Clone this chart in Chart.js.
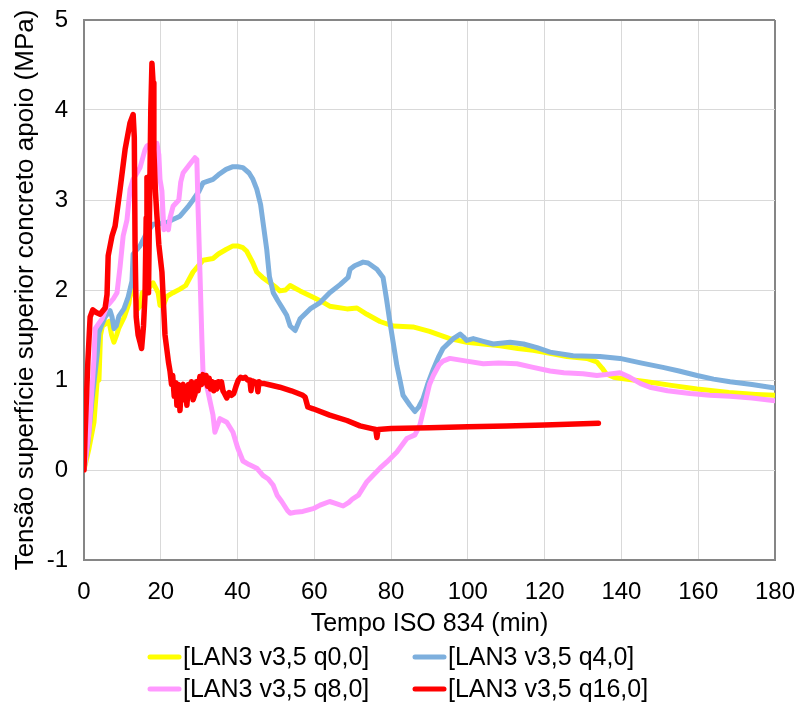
<!DOCTYPE html>
<html><head><meta charset="utf-8">
<script src="https://cdn.jsdelivr.net/npm/chart.js@4.4.0/dist/chart.umd.min.js"></script>
<style>html,body{margin:0;padding:0;background:#fff;}</style>
</head><body>
<canvas id="c" width="795" height="704"></canvas>
<script>
// ---- data ----
const seriesLabels = ['[LAN3 v3,5 q0,0]', '[LAN3 v3,5 q4,0]', '[LAN3 v3,5 q8,0]', '[LAN3 v3,5 q16,0]'];
const xTitle = 'Tempo ISO 834 (min)';
const yTitle = 'Tensão superfície superior concreto apoio (MPa)';

const tQ0 = [0,1.3,2.6,3.4,3.9,4.3,4.8,5.5,6.5,7.2,7.8,8.5,9.1,10.5,11.7,12.2,13.2,14,14.6,15.2,16.5,18,19.3,19.8,20.6,21.6,23.2,25,26.5,28.4,30,31,33.6,35,37,38.8,40,41.4,42.4,44,45,46.5,48.4,50,51,52.5,53.7,55,56.3,59.7,62,64,68.5,71.1,73.7,77.1,80.5,85.7,90,92,95.3,99.7,104,108.4,113,117,121,125.8,131,133.6,135,136,138,139.6,146.6,153,159.7,168,175,180];
const sQ0 = [0,0.24,0.53,0.98,1.0,1.5,1.6,1.62,1.65,1.5,1.42,1.5,1.58,1.7,1.85,2.03,1.95,1.79,1.82,1.97,2.0,2.08,1.97,1.83,1.82,1.93,1.97,2.01,2.05,2.2,2.28,2.33,2.35,2.4,2.45,2.49,2.49,2.47,2.43,2.3,2.2,2.14,2.08,2.03,1.99,2.0,2.05,2.02,1.99,1.92,1.87,1.82,1.79,1.8,1.73,1.65,1.6,1.59,1.54,1.51,1.46,1.42,1.4,1.38,1.35,1.33,1.3,1.26,1.24,1.2,1.13,1.07,1.03,1.02,0.98,0.94,0.9,0.86,0.84,0.83];

const tQ4 = [0,1,2.1,3.4,3.9,4.5,5.5,6.8,7.3,7.8,8.4,9.1,10.4,11.5,12.5,12.8,14.6,16.4,18,20,21.6,23,25,27,28.4,30,31,33.6,35,37,38.8,40,41.4,43,44,45,46,46.8,47.6,48.3,49.3,50.5,51.8,52.8,53.7,55,56.3,58.9,61.5,64,66.7,68.8,69.3,70.5,72.7,74,76.3,77.9,78.8,79.7,80.6,81.5,82.3,83.1,84.9,86.2,87.2,88.3,89.5,91,92.3,93.5,96.2,98,98.8,99.7,101.4,104,106.6,111,114.5,118,121.4,127.4,134.4,139.6,145,150.8,155,159.7,164,168.3,174,180];
const sQ4 = [0,0.3,0.79,1.27,1.53,1.6,1.7,1.77,1.7,1.57,1.6,1.71,1.79,1.92,2.1,2.4,2.49,2.64,2.73,2.74,2.75,2.78,2.82,2.92,3.0,3.1,3.19,3.23,3.28,3.34,3.37,3.37,3.36,3.3,3.23,3.12,2.95,2.7,2.45,2.15,1.97,1.88,1.79,1.72,1.6,1.55,1.68,1.79,1.86,1.97,2.06,2.14,2.23,2.27,2.31,2.3,2.23,2.14,1.9,1.64,1.4,1.16,1.0,0.83,0.72,0.65,0.7,0.79,0.95,1.12,1.25,1.35,1.46,1.51,1.48,1.44,1.46,1.43,1.4,1.42,1.4,1.36,1.31,1.27,1.26,1.24,1.19,1.14,1.1,1.05,1.01,0.98,0.95,0.91];

const tQ8 = [0,1.3,2.6,2.9,3.4,4.7,6,6.8,7.6,8.6,9.4,10.2,11.2,12,12.8,13.8,14.6,15.9,16.4,17.7,19,19.5,19.8,20.3,20.8,21.5,22,22.4,23.2,24.7,25.2,25.8,27.6,28.9,29.4,29.7,30.2,30.7,31,32.3,33.6,34.1,35.4,37.2,38.8,40,41.4,43,45,46.6,48,49.3,50.3,51.5,53,53.7,55,57,59.7,61.5,64,65.5,67.5,69,70,71.5,73.7,75.5,77.1,78.9,81.5,84.1,86.2,87.5,88.5,90,91,92.5,93.5,95.3,99.7,104,108,112.8,117,121.4,125,130,133.6,136,139.6,142.2,145,147.4,152,157.9,163,168.3,174,180];
const sQ8 = [0,0.42,1.23,1.57,1.6,1.68,1.82,1.86,1.9,1.97,2.26,2.6,2.78,3.12,3.23,3.3,3.36,3.56,3.6,3.63,3.63,3.5,3.23,3.1,2.67,2.7,2.67,2.8,2.93,3.0,3.2,3.3,3.4,3.47,3.45,2.93,2.2,1.46,1.09,0.87,0.61,0.42,0.57,0.53,0.42,0.25,0.1,0.06,0.02,-0.06,-0.1,-0.17,-0.28,-0.35,-0.45,-0.48,-0.47,-0.46,-0.43,-0.39,-0.35,-0.37,-0.4,-0.36,-0.32,-0.28,-0.13,-0.05,0.02,0.09,0.2,0.35,0.39,0.5,0.68,0.95,1.05,1.17,1.21,1.24,1.21,1.18,1.19,1.18,1.14,1.1,1.08,1.07,1.05,1.06,1.08,1.03,0.96,0.92,0.88,0.85,0.83,0.82,0.8,0.77];

const tQ16 = [0,0.3,1.0,1.6,2.3,3.2,4.2,5.5,6,6.3,7.3,8.1,9.4,10.7,12,12.8,13.1,13.3,13.6,14.1,14.6,15,15.5,15.9,16.2,16.4,16.6,16.8,17.1,17.4,17.7,18,18.2,18.6,19,19.5,20.3,21.1,22,22.4,22.8,23.1,23.5,23.9,24.2,24.6,25,25.4,25.8,26.1,26.5,26.8,27.2,27.6,28,28.4,28.9,29.3,29.7,30.2,30.6,31,31.4,31.8,32.2,32.6,33,33.4,33.8,34.2,34.6,35,35.4,35.8,36.2,36.6,37.2,37.8,38.4,39,39.6,40.2,40.8,41.4,42,42.6,43.2,43.5,43.8,44.4,45,45.3,45.6,46.2,47,48,51,54,57,57.6,58.3,59.7,64,68.5,71.9,75,76,76.3,76.6,80,90,100,110,120,128,134];
const sQ16 = [0,0.42,1.2,1.7,1.78,1.75,1.73,1.8,1.95,2.38,2.6,2.71,3.12,3.56,3.86,3.95,3.7,2.5,1.7,1.5,1.42,1.35,1.6,1.95,2.8,3.25,2.2,1.97,3.0,4.0,4.52,4.3,3.56,3.1,2.82,2.5,2.2,1.5,1.2,1.1,0.95,1.05,0.82,0.97,0.72,0.95,0.66,0.92,0.95,0.78,0.92,0.72,0.95,0.86,0.98,0.78,0.84,0.98,0.88,1.04,0.95,1.06,0.97,1.05,0.93,1.02,0.9,0.98,0.88,0.97,0.9,0.98,0.93,0.98,0.88,0.85,0.8,0.86,0.83,0.85,0.93,1.0,1.03,1.02,1.03,1.0,1.0,0.88,0.99,0.98,0.97,0.87,0.98,0.96,0.96,0.95,0.92,0.88,0.83,0.81,0.7,0.68,0.61,0.55,0.49,0.46,0.45,0.36,0.45,0.46,0.47,0.48,0.49,0.5,0.51,0.52];

const xMin = 0, xMax = 180, xStep = 20;
const yMin = -1, yMax = 5, yStep = 1;

// ---- styling ----
const FAMILY = '"Liberation Sans", Arial, sans-serif';
const colors = ['#FFFF00', '#7DAFDD', '#FF99FF', '#FF0000'];
const widths = [5, 5, 5, 5.5];
const GRID = '#D9D9D9', FRAME = '#868686';

const pairs = (t, s) => t.map((x, i) => ({x: x, y: s[i]}));
const seriesT = [tQ0, tQ4, tQ8, tQ16];
const seriesS = [sQ0, sQ4, sQ8, sQ16];

const datasets = seriesLabels.map((lab, i) => ({
  label: lab,
  data: pairs(seriesT[i], seriesS[i]),
  borderColor: colors[i],
  backgroundColor: colors[i],
  borderWidth: widths[i],
  order: 4 - i,
  fill: false
}));

const gridLegend = {
  id: 'gridLegend',
  afterDraw(chart) {
    const ctx = chart.ctx;
    const cols = [148, 413], rows = [657, 689];
    ctx.save();
    ctx.font = '25px ' + FAMILY;
    ctx.textBaseline = 'middle';
    ctx.textAlign = 'left';
    chart.data.datasets.forEach((ds, i) => {
      const x = cols[i % 2], y = rows[Math.floor(i / 2)];
      ctx.strokeStyle = ds.borderColor;
      ctx.lineWidth = 5;
      ctx.lineCap = 'round';
      ctx.beginPath(); ctx.moveTo(x + 2, y); ctx.lineTo(x + 31, y); ctx.stroke();
      ctx.fillStyle = '#000';
      ctx.fillText(ds.label, x + 35, y + 1);
    });
    ctx.restore();
  }
};

new Chart(document.getElementById('c'), {
  type: 'line',
  data: {datasets: datasets},
  options: {
    responsive: false,
    animation: false,
    devicePixelRatio: 1,
    elements: {
      point: {radius: 0, hoverRadius: 0},
      line: {tension: 0, borderJoinStyle: 'round', borderCapStyle: 'round'}
    },
    layout: {padding: {left: 0, right: 20, top: 20, bottom: 65}},
    plugins: {legend: {display: false}, tooltip: {enabled: false}},
    scales: {
      x: {
        type: 'linear', min: xMin, max: xMax,
        ticks: {stepSize: xStep, color: '#000', font: {family: FAMILY, size: 24}, padding: 18, maxRotation: 0, autoSkip: false},
        grid: {
          color: c => c.tick && c.tick.value === xMax ? FRAME : GRID,
          lineWidth: c => c.tick && c.tick.value === xMax ? 2 : 1,
          drawTicks: false
        },
        border: {color: FRAME, width: 2},
        title: {display: true, text: xTitle, color: '#000', font: {family: FAMILY, size: 25}, padding: 0},
        afterFit(s) { s.height = 79; s.paddingLeft = 0; s.paddingRight = 0; }
      },
      y: {
        type: 'linear', min: yMin, max: yMax,
        ticks: {stepSize: yStep, color: '#000', font: {family: FAMILY, size: 24}, padding: 16},
        grid: {
          color: c => c.tick && c.tick.value === yMax ? FRAME : GRID,
          lineWidth: c => c.tick && c.tick.value === yMax ? 2 : 1,
          drawTicks: false
        },
        border: {color: FRAME, width: 2},
        title: {display: true, text: yTitle, color: '#000', font: {family: FAMILY, size: 26}, padding: {top: 10, bottom: 0}},
        afterFit(s) { s.width = 84; s.paddingTop = 0; s.paddingBottom = 0; }
      }
    }
  },
  plugins: [gridLegend]
});
</script>
</body></html>
